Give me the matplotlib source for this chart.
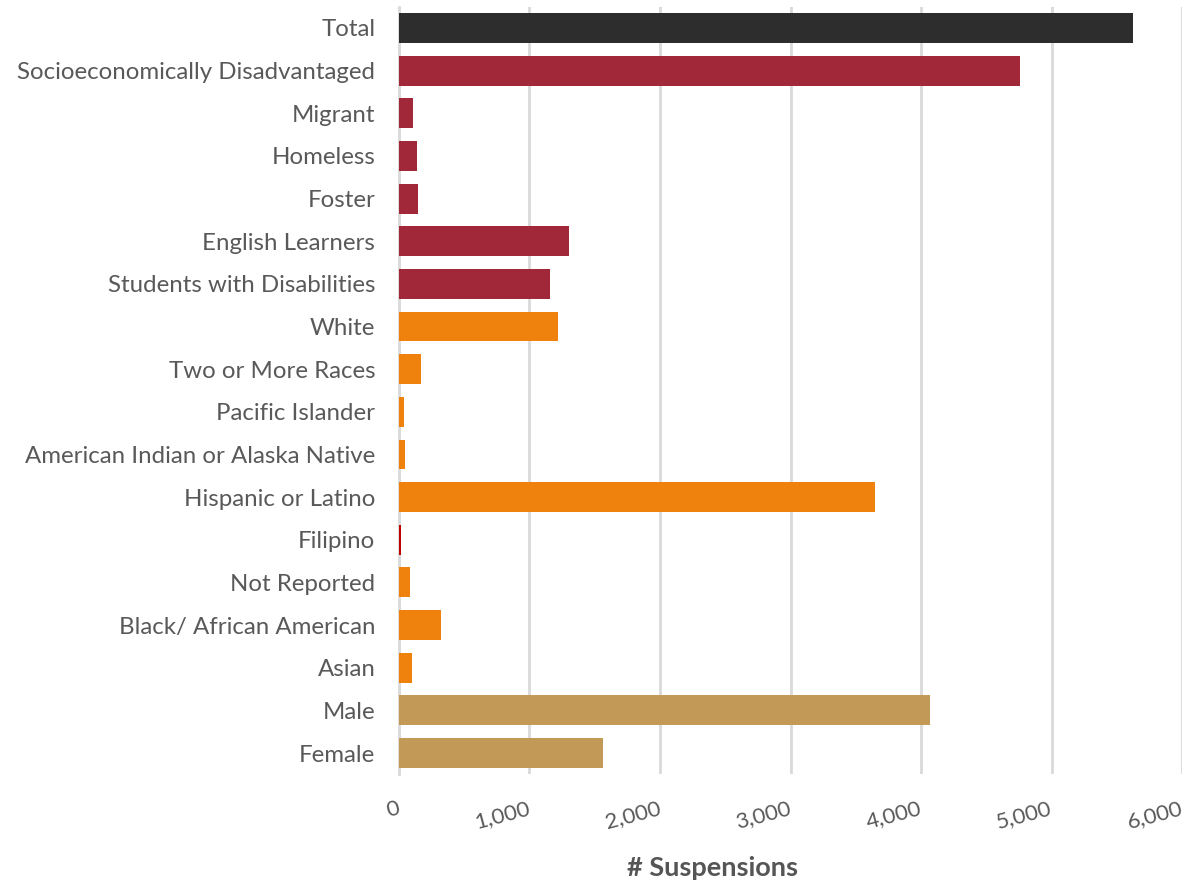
import matplotlib
matplotlib.use("Agg")
import matplotlib.pyplot as plt

categories = [
    "Total", "Socioeconomically Disadvantaged", "Migrant", "Homeless", "Foster",
    "English Learners", "Students with Disabilities", "White", "Two or More Races",
    "Pacific Islander", "American Indian or Alaska Native", "Hispanic or Latino",
    "Filipino", "Not Reported", "Black/ African American", "Asian", "Male", "Female",
]
suspensions = [5625, 4760, 107, 138, 146, 1303, 1157, 1218, 169, 38, 46, 3648,
               15, 84, 322, 100, 4069, 1563]
groups = ["total", "program", "program", "program", "program", "program", "program",
          "race", "race", "race", "race", "race", "program", "race", "race", "race",
          "gender", "gender"]
group_colors = {"total": "#2d2d2d", "program": "#a02838", "race": "#ef820d",
                "gender": "#c39958"}
x_ticks = [0, 1000, 2000, 3000, 4000, 5000, 6000]

plt.rcParams['font.family'] = ['Lato', 'DejaVu Sans']

fig = plt.figure(figsize=(11.91, 8.88), dpi=100)
ax = fig.add_axes([0.335, 0.128, 0.6575, 0.8645])

ypos = list(range(len(categories)))
colors = [group_colors[g] for g in groups]
colors[categories.index("Filipino")] = "#c00000"
ax.barh(ypos, suspensions, height=0.7, color=colors, zorder=3)

ax.set_ylim(len(categories) - 0.5, -0.5)
ax.set_xlim(0, 6000)
ax.set_yticks(ypos)
ax.set_yticklabels(categories, fontsize=17.3, color="#595959")
ax.set_xticks(x_ticks)
ax.set_xticklabels([f"{v:,}" for v in x_ticks], rotation=15, fontsize=16,
                   color="#595959", ha="right", va="center",
                   rotation_mode="anchor")
ax.tick_params(axis="y", length=0, pad=17)
ax.tick_params(axis="x", length=0, pad=24)

ax.grid(axis="x", color="#d9d9d9", linewidth=2, zorder=0)
for side in ["top", "right", "bottom"]:
    ax.spines[side].set_visible(False)
ax.spines["left"].set_color("#d9d9d9")
ax.spines["left"].set_linewidth(2)

ax.set_xlabel("# Suspensions", fontsize=19.5, fontweight="bold", color="#555555",
              va="center", ha="center")
ax.xaxis.set_label_coords(0.40, -0.122)

fig.savefig("out.png", dpi=100)
